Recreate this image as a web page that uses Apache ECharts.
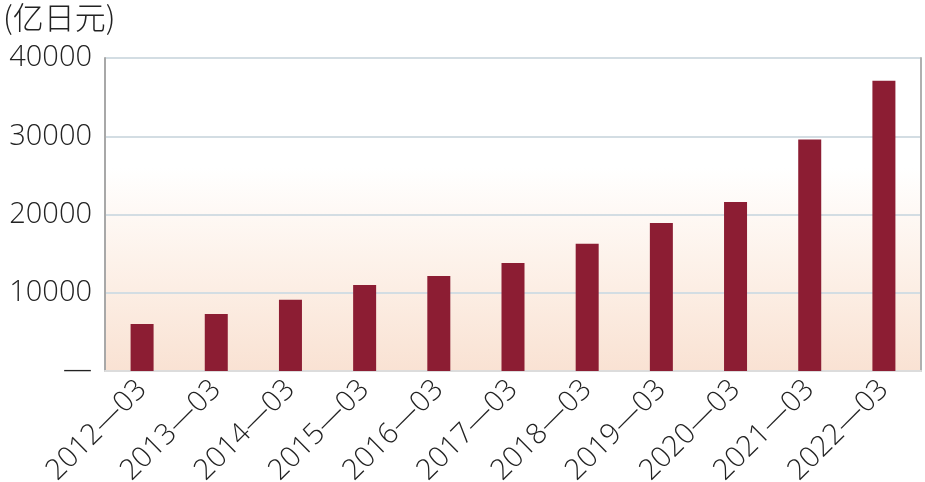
<!DOCTYPE html>
<html><head><meta charset="utf-8">
<script src="https://cdn.jsdelivr.net/npm/echarts@6/dist/echarts.min.js"></script>
<style>html,body{margin:0;padding:0;background:#fff}#c{width:925px;height:482px}</style>
</head><body><div id="c"></div>
<script>
const categories = ['2012—03','2013—03','2014—03','2015—03','2016—03','2017—03','2018—03','2019—03','2020—03','2021—03','2022—03'];
const values = [6000, 7300, 9100, 11000, 12150, 13800, 16250, 18900, 21600, 29600, 37100];
const yTickValues = [0, 10000, 20000, 30000, 40000];
const yTickLabels = ['—', '10000', '20000', '30000', '40000'];
const unitLabel = '(亿日元)';

const chart = echarts.init(document.getElementById('c'));
const font = '"Open Sans", Lato, "Noto Sans", sans-serif';
chart.setOption({
  backgroundColor: '#fff',
  animation: false,
  title: { text: unitLabel, left: -2, top: -3, textStyle: { fontSize: 31, fontWeight: 300, color: '#222', fontFamily: '"Noto Sans CJK SC", sans-serif' } },
  grid: {
    left: 105, right: 4, top: 58, bottom: 111, show: true, borderWidth: 0,
    outerBoundsMode: 'none', containLabel: false,
    backgroundColor: new echarts.graphic.LinearGradient(0, 0, 0, 1, [
      { offset: 0, color: '#ffffff' },
      { offset: 0.35, color: '#ffffff' },
      { offset: 0.65, color: '#fdf2ea' },
      { offset: 1, color: '#f9e2d3' }
    ])
  },
  xAxis: {
    type: 'category', data: categories,
    axisLine: { lineStyle: { color: '#dcdcdc', width: 2 } },
    axisTick: { show: false },
    axisLabel: { rotate: 45, fontSize: 29, fontWeight: 300, color: '#222', margin: 14, fontFamily: font, interval: 0 }
  },
  yAxis: [{
    type: 'value', min: 0, max: 40000, interval: 10000,
    axisLine: { show: true, lineStyle: { color: '#a8a8a8', width: 2 } },
    axisTick: { show: false },
    splitLine: { lineStyle: { color: '#d3dde3', width: 2 } },
    axisLabel: { fontSize: 29, fontWeight: 300, color: '#222', margin: 13, fontFamily: font,
      formatter: v => yTickLabels[yTickValues.indexOf(v)] }
  }, {
    type: 'value', min: 0, max: 40000, interval: 10000, position: 'right',
    axisLine: { show: true, lineStyle: { color: '#b0b0b0', width: 2 } },
    axisTick: { show: false }, axisLabel: { show: false }, splitLine: { show: false }
  }],
  series: [{
    type: 'bar', data: values, barWidth: 23,
    itemStyle: { color: '#8c1d33' }
  }]
});
</script></body></html>
